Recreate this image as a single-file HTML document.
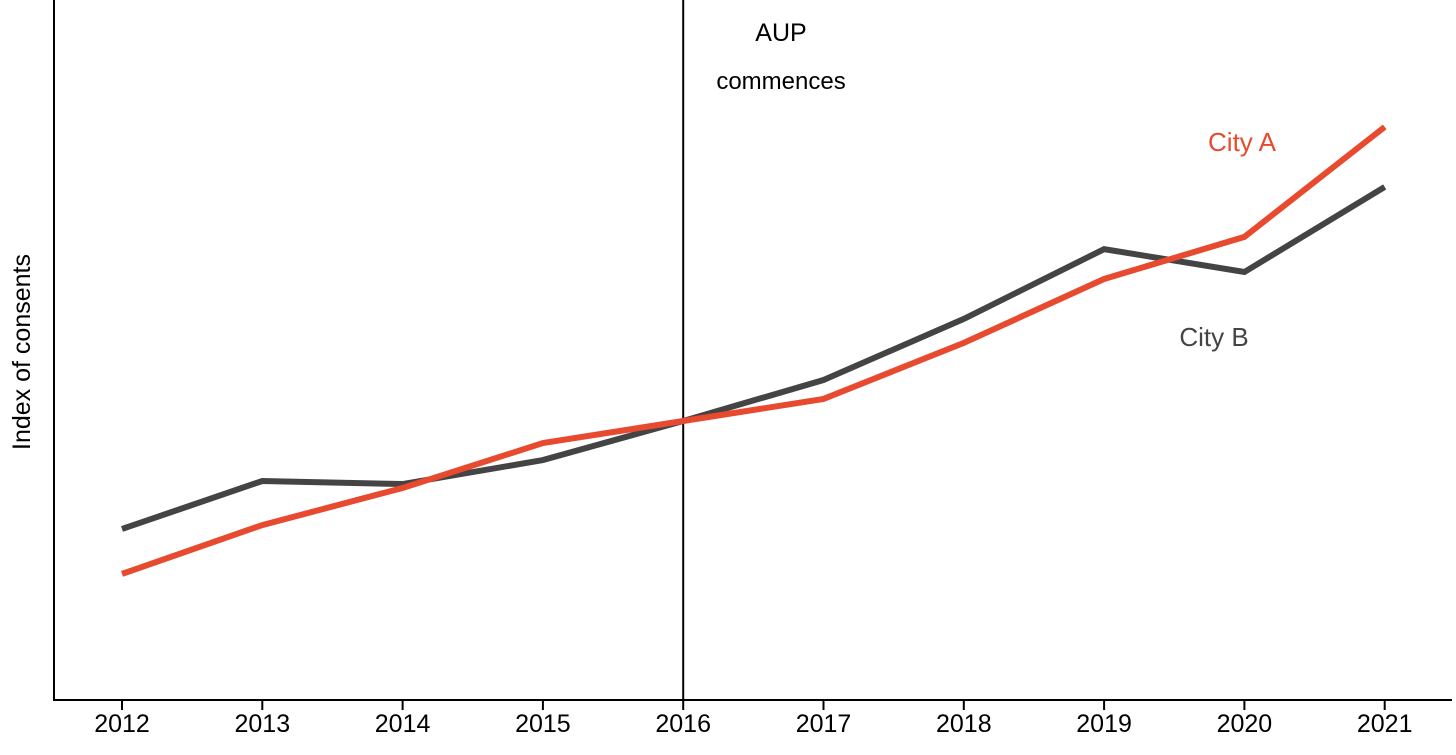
<!DOCTYPE html>
<html><head><meta charset="utf-8"><style>
html,body{margin:0;padding:0;background:#fff;}
svg text{font-family:"Liberation Sans",sans-serif;}
</style></head><body>
<svg id="chart" width="1456" height="750" xmlns="http://www.w3.org/2000/svg">
<g id="axes"></g>
<g id="series"></g>
<text transform="translate(30,352) rotate(-90)" text-anchor="middle" font-size="25" fill="#000">Index of consents</text>
<text x="781" y="41" text-anchor="middle" font-size="25" fill="#000">AUP</text>
<text x="781" y="89" text-anchor="middle" font-size="24" fill="#000">commences</text>
<text x="1242" y="151" text-anchor="middle" font-size="26" fill="#e84a2f">City A</text>
<text x="1214" y="346" text-anchor="middle" font-size="26" fill="#444">City B</text>
</svg>
<script>
const years = ["2012","2013","2014","2015","2016","2017","2018","2019","2020","2021"];
const cityA = [45.2, 62.7, 76.0, 92.1, 100, 107.9, 128.0, 150.9, 166.0, 205.4];
const cityB = [61.3, 78.5, 77.4, 86.0, 100, 114.7, 136.6, 161.6, 153.4, 183.9];
const markerYear = "2016";

const NS = "http://www.w3.org/2000/svg";
const x0 = 122, dx = 140.3, yBase = 700, k = 2.79;
const xScale = i => x0 + i * dx;
const yScale = v => yBase - v * k;
const axes = document.getElementById('axes');
const series = document.getElementById('series');
function mk(tag, attrs, parent){const e=document.createElementNS(NS,tag);for(const a in attrs)e.setAttribute(a,attrs[a]);parent.appendChild(e);return e;}

let e = mk('line',{x1:54,y1:0,x2:54,y2:700,stroke:'#000','stroke-width':2},axes);


e = mk('line',{x1:53,y1:700,x2:1452,y2:700,stroke:'#000','stroke-width':2},axes);


years.forEach((y,i)=>{
  const x = xScale(i);
  let t = mk('line',{x1:x,y1:700,x2:x,y2:710,stroke:'#000','stroke-width':2},axes);
  
  
  let l = mk('text',{x:x,y:732,'text-anchor':'middle','font-size':25,fill:'#000'},axes);
  l.textContent = y;
  
  
});
const mi = years.indexOf(markerYear);
e = mk('line',{x1:xScale(mi),y1:0,x2:xScale(mi),y2:700,stroke:'#000','stroke-width':2},axes);



function drawLine(vals,color,name){
  const pts = vals.map((v,i)=>xScale(i)+','+yScale(v)).join(' ');
  const p = mk('polyline',{points:pts,fill:'none',stroke:color,'stroke-width':6,'stroke-linejoin':'miter'},series);
  
  
}
drawLine(cityB,'#444444','city-b-line');
drawLine(cityA,'#e84a2f','city-a-line');
</script>
</body></html>
